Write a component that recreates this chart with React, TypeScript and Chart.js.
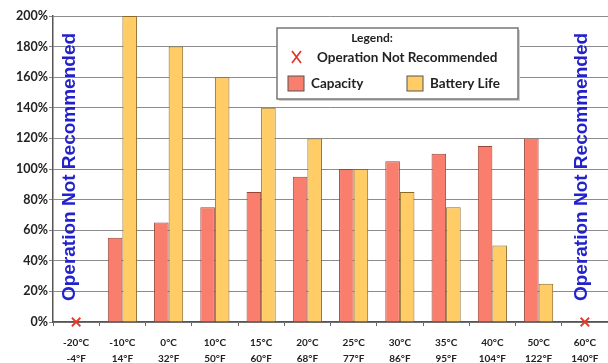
import React, { useEffect, useRef } from "react";
import { Chart, registerables } from "chart.js";

Chart.register(...registerables);

const categoriesC = ["-20°C", "-10°C", "0°C", "10°C", "15°C", "20°C", "25°C", "30°C", "35°C", "40°C", "50°C", "60°C"];
const categoriesF = ["-4°F", "14°F", "32°F", "50°F", "60°F", "68°F", "77°F", "86°F", "95°F", "104°F", "122°F", "140°F"];
const capacity = [null, 55, 65, 75, 85, 95, 100, 105, 110, 115, 120, null];
const batteryLife = [null, 200, 180, 160, 140, 120, 100, 85, 75, 50, 25, null];
const notRecommended = [0, null, null, null, null, null, null, null, null, null, null, 0];
const yMin = 0;
const yMax = 200;
const yStep = 20;
const sideNote = "Operation Not Recommended";
const legendTitle = "Legend:";

const RED = "#F97E6E";
const RED_BORDER = "#9a4636";
const YELLOW = "#FFCC66";
const YELLOW_BORDER = "#8a6a2a";
const BLUE = "#2222cc";
const FONT = "Lato, 'DejaVu Sans', sans-serif";

const overlayPlugin = {
  id: "overlay",
  afterDatasetsDraw(chart: any) {
    const { ctx, chartArea, scales } = chart;
    const xs = scales.x;
    ctx.save();
    const cy = (chartArea.top + chartArea.bottom) / 2 - 2;
    const positions = [xs.getPixelForValue(0) - 6, xs.getPixelForValue(categoriesC.length - 1) - 3];
    ctx.fillStyle = BLUE;
    ctx.font = "bold 19px 'Liberation Sans', Arial, sans-serif";
    ctx.textAlign = "center";
    ctx.textBaseline = "middle";
    positions.forEach((px) => {
      ctx.save();
      ctx.translate(px, cy);
      ctx.rotate(-Math.PI / 2);
      ctx.fillText(sideNote, 0, 0);
      ctx.restore();
    });

    const bx = 277, by = 28, bw = 241, bh = 71;
    ctx.fillStyle = "#cfcfcf";
    ctx.fillRect(bx + 2, by + 2, bw, bh);
    ctx.fillStyle = "#ffffff";
    ctx.fillRect(bx, by, bw, bh);
    ctx.strokeStyle = "#777";
    ctx.lineWidth = 1.5;
    ctx.strokeRect(bx, by, bw, bh);

    ctx.fillStyle = "#222";
    ctx.font = `bold 12px ${FONT}`;
    ctx.textAlign = "center";
    ctx.fillText(legendTitle, 372, 38);

    ctx.strokeStyle = "#e03020";
    ctx.lineWidth = 1.6;
    ctx.beginPath();
    ctx.moveTo(292, 51); ctx.lineTo(301, 63);
    ctx.moveTo(301, 51); ctx.lineTo(292, 63);
    ctx.stroke();

    ctx.fillStyle = "#222";
    ctx.font = `bold 13.5px ${FONT}`;
    ctx.textAlign = "left";
    ctx.fillText(sideNote, 317, 58);

    ctx.fillStyle = RED;
    ctx.fillRect(288, 76, 16, 15);
    ctx.strokeStyle = "#555";
    ctx.lineWidth = 1;
    ctx.strokeRect(288, 76, 16, 15);
    ctx.fillStyle = YELLOW;
    ctx.fillRect(407, 76, 16, 15);
    ctx.strokeRect(407, 76, 16, 15);
    ctx.fillStyle = "#222";
    ctx.fillText("Capacity", 311, 84);
    ctx.fillText("Battery Life", 430, 84);
    ctx.restore();
  },
};

export default function App() {
  const ref = useRef<HTMLCanvasElement | null>(null);
  useEffect(() => {
    if (!ref.current) return;
    const labels = categoriesC.map((c, i) => [c, categoriesF[i]]);
    const chart = new Chart(ref.current, {
      type: "bar",
      data: {
        labels,
        datasets: [
          {
            type: "line" as any,
            label: "Operation Not Recommended",
            data: notRecommended as any,
            showLine: false,
            pointStyle: "crossRot",
            pointRadius: 6,
            pointBorderColor: "#e83a2a",
            pointBorderWidth: 1.8,
            borderColor: "#e83a2a",
            clip: false as any,
            order: 0,
          } as any,
          {
            label: "Capacity",
            data: capacity as any,
            backgroundColor: RED,
            borderColor: RED_BORDER,
            borderWidth: 1,
            categoryPercentage: 0.63,
            barPercentage: 1,
            order: 1,
          },
          {
            label: "Battery Life",
            data: batteryLife as any,
            backgroundColor: YELLOW,
            borderColor: YELLOW_BORDER,
            borderWidth: 1,
            categoryPercentage: 0.63,
            barPercentage: 1,
            order: 1,
          },
        ],
      },
      options: {
        responsive: false,
        animation: false,
        layout: { autoPadding: false, padding: { top: 16, right: 0, left: 0, bottom: 0 } },
        plugins: { legend: { display: false }, tooltip: { enabled: false } },
        scales: {
          x: {
            offset: true,
            grid: { display: true, drawOnChartArea: false, drawTicks: true, tickLength: 4, color: "#666", offset: true },
            border: { color: "#555", width: 1.5 },
            ticks: { color: "#222", font: { family: FONT, weight: "bold", size: 10, lineHeight: 1.6 }, maxRotation: 0, autoSkip: false, padding: 9 },
            afterFit: (s: any) => { s.height = 41; s.paddingLeft = 0; s.paddingRight = 0; },
          },
          y: {
            min: yMin,
            max: yMax,
            ticks: { stepSize: yStep, color: "#222", font: { family: FONT, weight: "bold", size: 12.5 }, padding: 1, callback: (v: any) => v + "%" },
            grid: { color: "#8c8c8c", lineWidth: 1, tickLength: 4 },
            border: { color: "#555", width: 1.5 },
            afterFit: (s: any) => { s.width = 53; s.paddingTop = 0; s.paddingBottom = 0; },
          },
        },
      },
      plugins: [overlayPlugin],
    });
    return () => chart.destroy();
  }, []);
  return (
    <div style={{ position: "fixed", left: 0, top: 0, width: 608, height: 363, background: "#fff" }}>
      <canvas ref={ref} width={608} height={363} />
    </div>
  );
}
